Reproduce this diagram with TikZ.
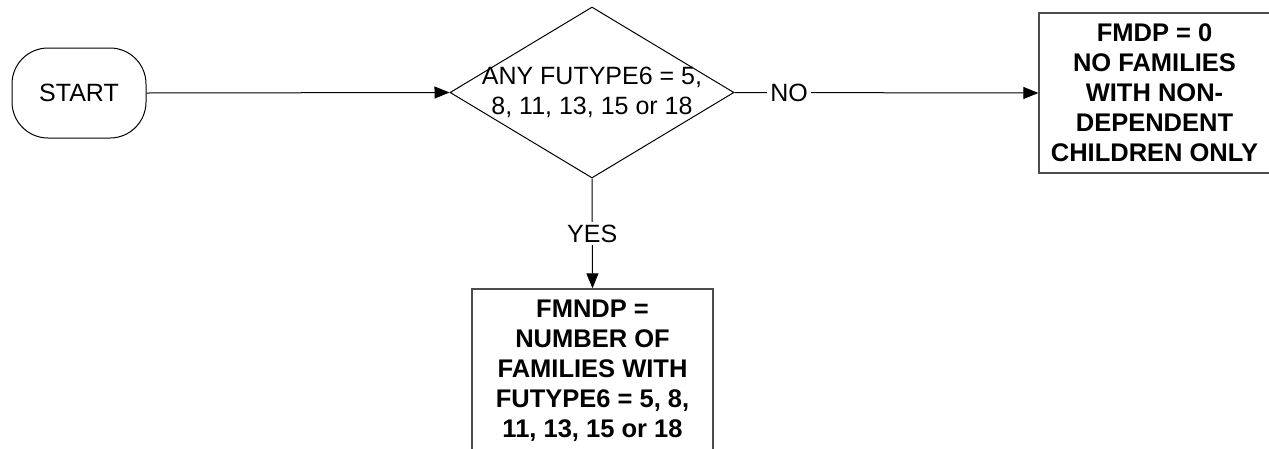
\documentclass[tikz,border=0pt]{standalone}
\usepackage{fontspec}
\setmainfont{Liberation Sans}
\usetikzlibrary{shapes.geometric,arrows.meta}
\begin{document}
\begin{tikzpicture}[x=1pt,y=-1pt,
  txt/.style={font=\fontsize{25}{30}\selectfont, align=center, inner sep=0pt},
  startbox/.style={draw=black, line width=1pt, rounded corners=36pt, minimum width=134pt, minimum height=90pt, txt},
  decision/.style={draw=black, line width=1pt, diamond, inner sep=0pt, minimum width=284pt, minimum height=171pt},
  procbox/.style={draw=black!70, line width=1.3pt, rectangle, txt, font=\fontsize{25.5}{30}\selectfont\bfseries},
  arr/.style={draw=black, line width=1pt, -{Triangle[length=15pt,width=12pt]}},
  lab/.style={fill=white, inner sep=3pt, font=\fontsize{25}{30}\selectfont}
]
\useasboundingbox (0,0) rectangle (1269,448);
\node[startbox] (start) at (79,93) {START};
\node[decision] (dec) at (592,92.5) {};
\node[txt] (dectext) at (dec.center) {ANY FUTYPE6 = 5,\\8, 11, 13, 15 or 18};
\node[procbox, minimum width=231pt, minimum height=160pt] (nofam) at (1154.5,93)
  {FMDP = 0\\NO FAMILIES\\WITH NON-\\DEPENDENT\\CHILDREN ONLY};
\node[procbox, minimum width=241pt, minimum height=163pt] (fmndp) at (592.5,370.5)
  {FMNDP =\\NUMBER OF\\FAMILIES WITH\\FUTYPE6 = 5, 8,\\11, 13, 15 or 18};
\draw[arr] (start.east) -- (dec.west);
\draw[arr] (dec.east) -- node[lab, pos=0.18] (no) {NO} (nofam.west);
\draw[arr] (dec.south) -- node[lab, pos=0.5] (yes) {YES} (fmndp.north);
\end{tikzpicture}
\end{document}
